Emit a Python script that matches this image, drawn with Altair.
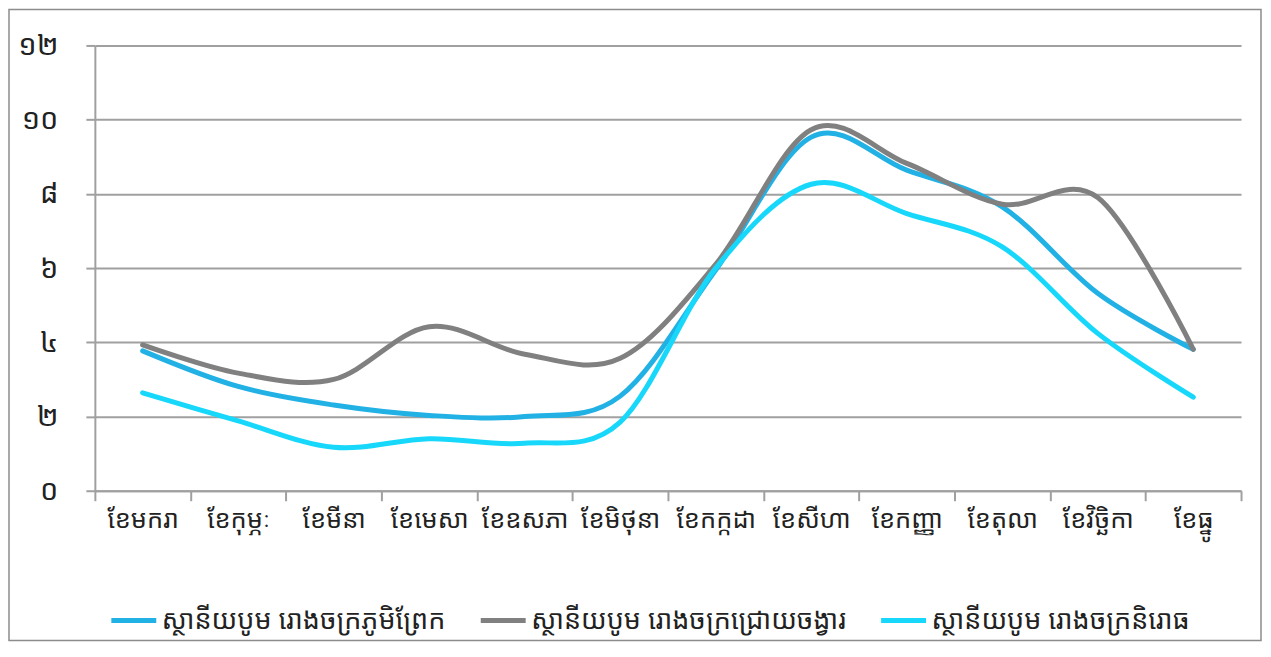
import altair as alt
import pandas as pd

months = ["ខែមករា", "ខែកុម្ភៈ", "ខែមីនា", "ខែមេសា", "ខែឧសភា", "ខែមិថុនា",
          "ខែកក្កដា", "ខែសីហា", "ខែកញ្ញា", "ខែតុលា", "ខែវិច្ឆិកា", "ខែធ្នូ"]

series_names = ["ស្ថានីយបូម រោងចក្រភូមិព្រែក",
                "ស្ថានីយបូម រោងចក្រជ្រោយចង្វារ",
                "ស្ថានីយបូម រោងចក្រនិរោធ"]

phum_prek = [3.77, 2.81, 2.31, 2.03, 2.00, 2.55, 5.95, 9.53, 8.64, 7.65, 5.32, 3.81]
chroy_changvar = [3.93, 3.17, 3.00, 4.42, 3.68, 3.57, 6.10, 9.73, 8.82, 7.72, 7.90, 3.81]
niroth = [2.64, 1.88, 1.17, 1.40, 1.28, 1.85, 6.00, 8.26, 7.47, 6.57, 4.24, 2.52]

series_colors = ["#22B1E4", "#808080", "#17D8FA"]

y_tick_values = [0, 2, 4, 6, 8, 10, 12]
y_tick_labels = ["០", "២", "៤", "៦", "៨", "១០", "១២"]

rows = []
for name, vals in zip(series_names, [phum_prek, chroy_changvar, niroth]):
    for m, v in zip(months, vals):
        rows.append({"month": m, "value": v, "series": name})
df = pd.DataFrame(rows)

label_map = "{" + ", ".join(f"'{v}': '{l}'" for v, l in zip(y_tick_values, y_tick_labels)) + "}"

FONT = "'Noto Sans Khmer', 'Khmer OS', 'Noto Sans', 'DejaVu Sans', sans-serif"
W, H = 1148, 446

lines = alt.Chart(df).mark_line(
    interpolate="cardinal", strokeWidth=5, strokeCap="round", strokeJoin="round"
).encode(
    x=alt.X("month:N", sort=months, bandPosition=0.5,
            scale=alt.Scale(type="band", domain=months, paddingInner=0, paddingOuter=0),
            axis=alt.Axis(title=None, tickBand="extent", labelAngle=0, labelFontSize=25.5,
                          labelFont=FONT, labelColor="#222222", labelPadding=7,
                          tickSize=10, tickColor="#A0A0A0", tickWidth=2,
                          domainColor="#A0A0A0", domainWidth=2, grid=False,
                          labelLimit=200)),
    y=alt.Y("value:Q", scale=alt.Scale(domain=[0, 12], nice=False),
            axis=alt.Axis(title=None, values=y_tick_values,
                          labelExpr=f"{label_map}[datum.value]",
                          labelFontSize=29, labelFont=FONT, labelColor="#222222",
                          labelPadding=28, tickSize=9, tickColor="#A0A0A0", tickWidth=2,
                          domainColor="#A0A0A0", domainWidth=2,
                          grid=True, gridColor="#A0A0A0", gridWidth=2)),
    color=alt.Color("series:N", sort=series_names,
                    scale=alt.Scale(domain=series_names, range=series_colors),
                    legend=alt.Legend(title=None, orient="none", direction="horizontal",
                                      legendX=14, legendY=551,
                                      symbolType="stroke", symbolSize=2025,
                                      symbolStrokeWidth=5, labelFontSize=27,
                                      labelFont=FONT, labelColor="#222222",
                                      labelOffset=3, columnPadding=24, labelLimit=400)),
)

border = alt.Chart(pd.DataFrame({"a": [0]})).mark_rect(
    filled=False, stroke="#8C8C8C", strokeWidth=1.5
).encode(
    x=alt.value(-86), x2=alt.value(W + 20), y=alt.value(-36), y2=alt.value(H + 150)
)

chart = alt.layer(border, lines).properties(
    width=W, height=H,
    autosize=alt.AutoSizeParams(type="none"),
    padding={"left": 87, "top": 37, "right": 22, "bottom": 152},
).configure_view(stroke=None)

chart.save("out.html", embed_options={"renderer": "svg", "actions": False})
